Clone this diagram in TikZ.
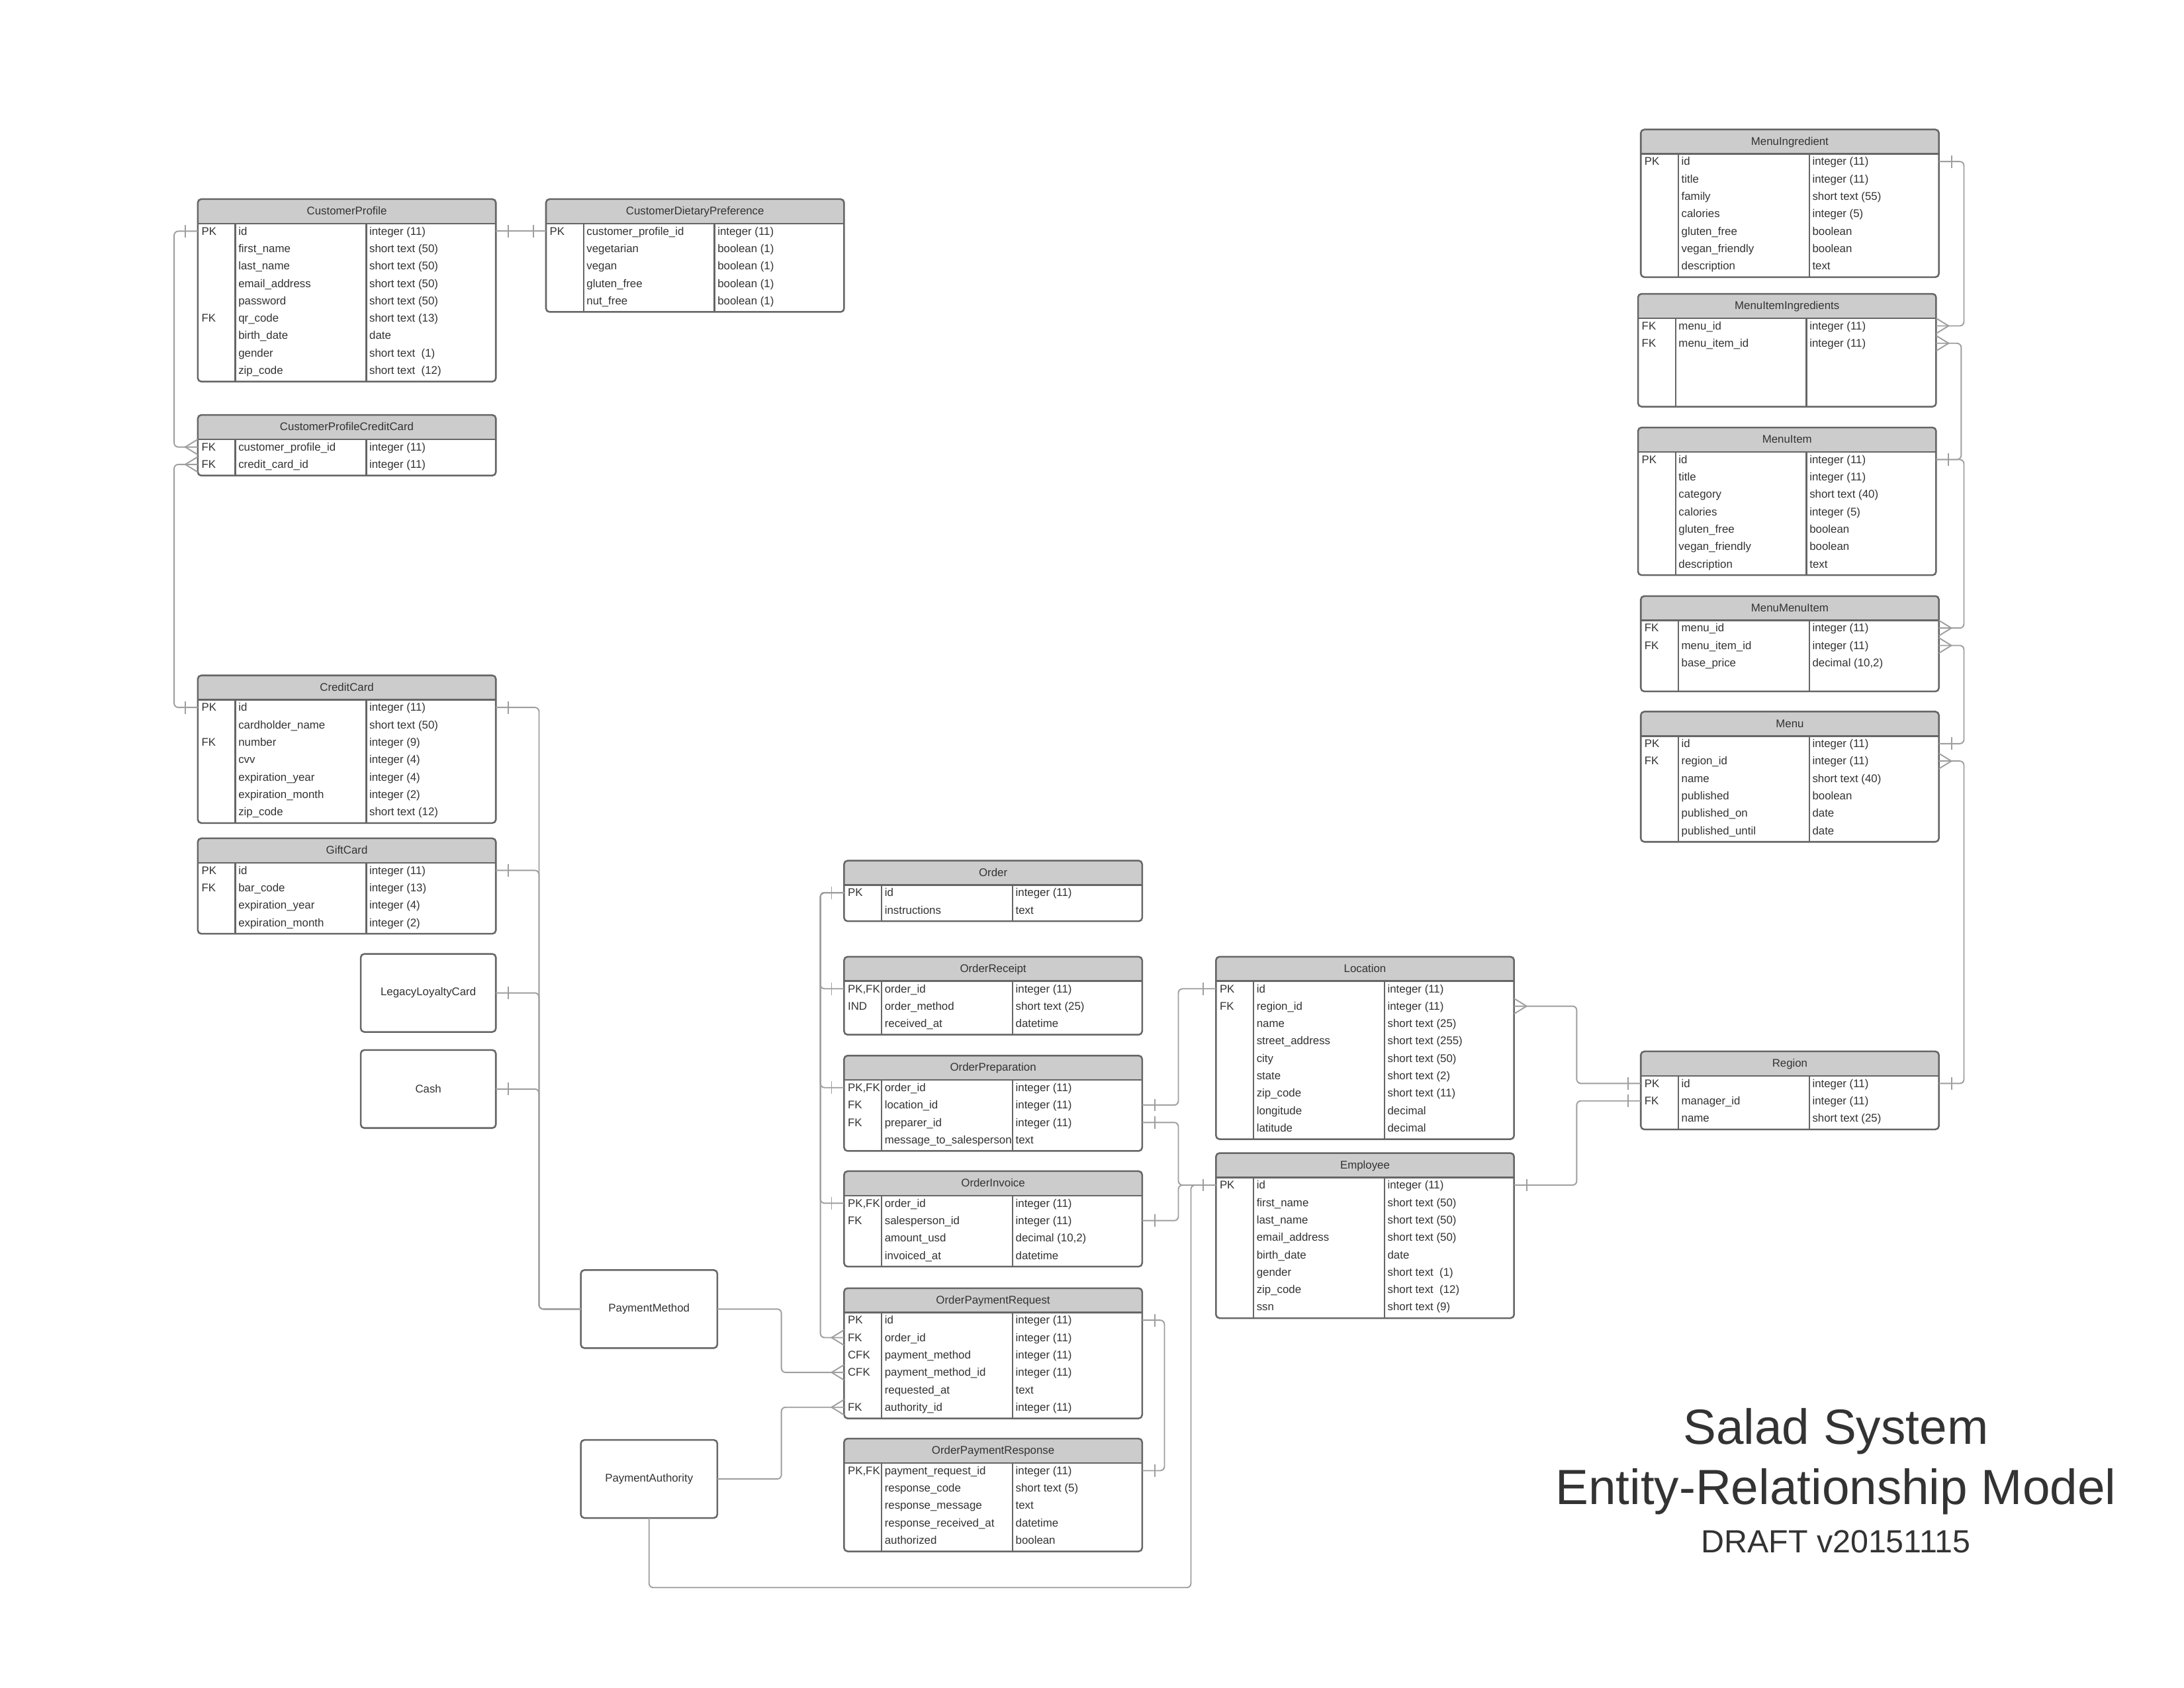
\documentclass[tikz,border=0pt]{standalone}
\usepackage{fontspec}
\setmainfont{Liberation Sans}
\definecolor{boxcol}{HTML}{666666}
\definecolor{hdrcol}{HTML}{CCCCCC}
\definecolor{conncol}{HTML}{9E9E9E}
\definecolor{txtcol}{HTML}{333333}
\newcommand\fs{\fontsize{8}{9.6}\selectfont}
\newcommand\ertab[5]{%
  \def\ertid{#1}%
  \pgfmathsetmacro\ertX{#2}%
  \pgfmathsetmacro\ertY{#3}%
  \pgfmathsetmacro\ertHB{#3+17.5}%
  \pgfmathsetmacro\ertBot{#3+17.5+12.5*#4+1}%
  \pgfmathsetmacro\ertH{17.5+12.5*#4+1}%
  \pgfmathsetmacro\ertXR{#2+214}%
  \pgfmathsetmacro\ertKa{#2+27}%
  \pgfmathsetmacro\ertKb{#2+121}%
  \fill[hdrcol, rounded corners=2.5pt] (\ertX,\ertY) rectangle (\ertXR,\ertHB);
  \fill[hdrcol] (\ertX,\ertY+8) rectangle (\ertXR,\ertHB);
  \node[tbox, minimum height=\ertH, anchor=north west] (#1) at (\ertX,\ertY) {};
  \draw[bline] (\ertX,\ertHB) -- (\ertXR,\ertHB);
  \draw[bline] (\ertKa,\ertHB) -- (\ertKa,\ertBot);
  \draw[bline] (\ertKb,\ertHB) -- (\ertKb,\ertBot);
  \node[ttl] (#1-title) at ({\ertX+107},{\ertY+8.5}) {#5};
}
\newcommand\errow[4]{%
  \pgfmathsetmacro\ertRy{\ertHB+5.5+12.5*(#1-1)}%
  \coordinate (\ertid-#1w) at (\ertX,\ertRy);
  \coordinate (\ertid-#1e) at (\ertXR,\ertRy);
  \node[cell] (\ertid-k#1) at ({\ertX+2.5},\ertRy) {#2};
  \node[cell] (\ertid-n#1) at ({\ertX+29},\ertRy) {#3};
  \node[cell] (\ertid-y#1) at ({\ertX+123},\ertRy) {#4};
}
\begin{document}
\begin{tikzpicture}[x=1pt,y=-1pt,
  conn/.style={draw=conncol, line width=0.9pt, rounded corners=3pt},
  tbox/.style={draw=boxcol, line width=1.2pt, rounded corners=2.5pt, inner sep=0pt, outer sep=0pt, minimum width=214pt},
  bline/.style={draw=boxcol, line width=1.2pt},
  ttl/.style={font=\fs, text=txtcol, inner sep=0pt, text height=6pt, text depth=0.5pt},
  cell/.style={font=\fs, text=txtcol, inner sep=0pt, anchor=west, text height=6pt, text depth=0.5pt},
  sbox/.style={draw=boxcol, line width=1.2pt, rounded corners=2.5pt, inner sep=0pt, outer sep=0pt, minimum width=97pt, minimum height=56pt, font=\fs, text=txtcol},
  bigtxt/.style={text=txtcol, inner sep=0pt},
  barW/.pic={\draw[draw=conncol, line width=0.9pt] (-9,-4.5) -- (-9,4.5);},
  barE/.pic={\draw[draw=conncol, line width=0.9pt] (9,-4.5) -- (9,4.5);},
  crowW/.pic={\draw[draw=conncol, line width=0.9pt] (0,-5.5) -- (-9,0) -- (0,5.5);},
  crowE/.pic={\draw[draw=conncol, line width=0.9pt] (0,-5.5) -- (9,0) -- (0,5.5);}
]
\useasboundingbox (0,0) rectangle (1568,1212);
\fill[white] (0,0) rectangle (1568,1212);

% ---------- Customer tables ----------
\ertab{CP}{142}{143}{9}{CustomerProfile}
\errow{1}{PK}{id}{integer (11)}
\errow{2}{}{first\_name}{short text (50)}
\errow{3}{}{last\_name}{short text (50)}
\errow{4}{}{email\_address}{short text (50)}
\errow{5}{}{password}{short text (50)}
\errow{6}{FK}{qr\_code}{short text (13)}
\errow{7}{}{birth\_date}{date}
\errow{8}{}{gender}{short text\ \ (1)}
\errow{9}{}{zip\_code}{short text\ \ (12)}

\ertab{CDP}{392}{143}{5}{CustomerDietaryPreference}
\errow{1}{PK}{customer\_profile\_id}{integer (11)}
\errow{2}{}{vegetarian}{boolean (1)}
\errow{3}{}{vegan}{boolean (1)}
\errow{4}{}{gluten\_free}{boolean (1)}
\errow{5}{}{nut\_free}{boolean (1)}

\ertab{CPCC}{142}{298}{2}{CustomerProfileCreditCard}
\errow{1}{FK}{customer\_profile\_id}{integer (11)}
\errow{2}{FK}{credit\_card\_id}{integer (11)}

\ertab{CC}{142}{485}{7}{CreditCard}
\errow{1}{PK}{id}{integer (11)}
\errow{2}{}{cardholder\_name}{short text (50)}
\errow{3}{FK}{number}{integer (9)}
\errow{4}{}{cvv}{integer (4)}
\errow{5}{}{expiration\_year}{integer (4)}
\errow{6}{}{expiration\_month}{integer (2)}
\errow{7}{}{zip\_code}{short text (12)}

\ertab{GC}{142}{602}{4}{GiftCard}
\errow{1}{PK}{id}{integer (11)}
\errow{2}{FK}{bar\_code}{integer (13)}
\errow{3}{}{expiration\_year}{integer (4)}
\errow{4}{}{expiration\_month}{integer (2)}

\node[sbox] (LLC) at (307.5,713) {LegacyLoyaltyCard};
\node[sbox] (CASH) at (307.5,782) {Cash};
\node[sbox, minimum width=98pt] (PM) at (466,940) {PaymentMethod};
\node[sbox, minimum width=98pt] (PA) at (466,1062) {PaymentAuthority};

% ---------- Order tables ----------
\ertab{ORD}{606}{618}{2}{Order}
\errow{1}{PK}{id}{integer (11)}
\errow{2}{}{instructions}{text}

\ertab{ORC}{606}{687}{3}{OrderReceipt}
\errow{1}{PK,FK}{order\_id}{integer (11)}
\errow{2}{IND}{order\_method}{short text (25)}
\errow{3}{}{received\_at}{datetime}

\ertab{OPP}{606}{758}{4}{OrderPreparation}
\errow{1}{PK,FK}{order\_id}{integer (11)}
\errow{2}{FK}{location\_id}{integer (11)}
\errow{3}{FK}{preparer\_id}{integer (11)}
\errow{4}{}{message\_to\_salesperson}{text}

\ertab{OI}{606}{841}{4}{OrderInvoice}
\errow{1}{PK,FK}{order\_id}{integer (11)}
\errow{2}{FK}{salesperson\_id}{integer (11)}
\errow{3}{}{amount\_usd}{decimal (10,2)}
\errow{4}{}{invoiced\_at}{datetime}

\ertab{OPR}{606}{925}{6}{OrderPaymentRequest}
\errow{1}{PK}{id}{integer (11)}
\errow{2}{FK}{order\_id}{integer (11)}
\errow{3}{CFK}{payment\_method}{integer (11)}
\errow{4}{CFK}{payment\_method\_id}{integer (11)}
\errow{5}{}{requested\_at}{text}
\errow{6}{FK}{authority\_id}{integer (11)}

\ertab{OPRS}{606}{1033}{5}{OrderPaymentResponse}
\errow{1}{PK,FK}{payment\_request\_id}{integer (11)}
\errow{2}{}{response\_code}{short text (5)}
\errow{3}{}{response\_message}{text}
\errow{4}{}{response\_received\_at}{datetime}
\errow{5}{}{authorized}{boolean}

% ---------- Location / Employee / Region ----------
\ertab{LOC}{873}{687}{9}{Location}
\errow{1}{PK}{id}{integer (11)}
\errow{2}{FK}{region\_id}{integer (11)}
\errow{3}{}{name}{short text (25)}
\errow{4}{}{street\_address}{short text (255)}
\errow{5}{}{city}{short text (50)}
\errow{6}{}{state}{short text (2)}
\errow{7}{}{zip\_code}{short text (11)}
\errow{8}{}{longitude}{decimal}
\errow{9}{}{latitude}{decimal}

\ertab{EMP}{873}{828}{8}{Employee}
\errow{1}{PK}{id}{integer (11)}
\errow{2}{}{first\_name}{short text (50)}
\errow{3}{}{last\_name}{short text (50)}
\errow{4}{}{email\_address}{short text (50)}
\errow{5}{}{birth\_date}{date}
\errow{6}{}{gender}{short text\ \ (1)}
\errow{7}{}{zip\_code}{short text\ \ (12)}
\errow{8}{}{ssn}{short text (9)}

\ertab{REG}{1178}{755}{3}{Region}
\errow{1}{PK}{id}{integer (11)}
\errow{2}{FK}{manager\_id}{integer (11)}
\errow{3}{}{name}{short text (25)}

% ---------- Menu tables ----------
\ertab{MI}{1178}{93}{7}{MenuIngredient}
\errow{1}{PK}{id}{integer (11)}
\errow{2}{}{title}{integer (11)}
\errow{3}{}{family}{short text (55)}
\errow{4}{}{calories}{integer (5)}
\errow{5}{}{gluten\_free}{boolean}
\errow{6}{}{vegan\_friendly}{boolean}
\errow{7}{}{description}{text}

\ertab{MII}{1176}{211}{5}{MenuItemIngredients}
\errow{1}{FK}{menu\_id}{integer (11)}
\errow{2}{FK}{menu\_item\_id}{integer (11)}

\ertab{MIT}{1176}{307}{7}{MenuItem}
\errow{1}{PK}{id}{integer (11)}
\errow{2}{}{title}{integer (11)}
\errow{3}{}{category}{short text (40)}
\errow{4}{}{calories}{integer (5)}
\errow{5}{}{gluten\_free}{boolean}
\errow{6}{}{vegan\_friendly}{boolean}
\errow{7}{}{description}{text}

\ertab{MMI}{1178}{428}{4}{MenuMenuItem}
\errow{1}{FK}{menu\_id}{integer (11)}
\errow{2}{FK}{menu\_item\_id}{integer (11)}
\errow{3}{}{base\_price}{decimal (10,2)}

\ertab{MENU}{1178}{511}{6}{Menu}
\errow{1}{PK}{id}{integer (11)}
\errow{2}{FK}{region\_id}{integer (11)}
\errow{3}{}{name}{short text (40)}
\errow{4}{}{published}{boolean}
\errow{5}{}{published\_on}{date}
\errow{6}{}{published\_until}{date}

% ---------- Title ----------
\node[bigtxt, font=\fontsize{35.5}{40}\selectfont] (T1) at (1318,1028) {Salad System};
\node[bigtxt, font=\fontsize{35.5}{40}\selectfont] (T2) at (1318,1071) {Entity-Relationship Model};
\node[bigtxt, font=\fontsize{23}{27}\selectfont] (T3) at (1318,1107) {DRAFT v20151115};

% ---------- Connectors ----------
% Customer side
\draw[conn] (CP-1w) -- ++(-17,0) |- (CPCC-1w);
\pic at (CP-1w) {barW}; \pic at (CPCC-1w) {crowW};
\draw[conn] (CP-1e) -- (CDP-1w);
\pic at (CP-1e) {barE}; \pic at (CDP-1w) {barW};
\draw[conn] (CC-1w) -- ++(-17,0) |- (CPCC-2w);
\pic at (CC-1w) {barW}; \pic at (CPCC-2w) {crowW};

% Payment methods
\draw[conn] (CC-1e) -- ++(31,0) |- (PM.west);
\draw[conn] (GC-1e) -- ++(31,0) |- (PM.west);
\draw[conn] (LLC.east) -- ++(31,0) |- (PM.west);
\draw[conn] (CASH.east) -- ++(31,0) |- (PM.west);
\pic at (CC-1e) {barE}; \pic at (GC-1e) {barE};
\pic at (LLC.east) {barE}; \pic at (CASH.east) {barE};

\draw[conn] (PM.east) -- ++(46,0) |- (OPR-4w);
\pic at (OPR-4w) {crowW};
\draw[conn] (PA.east) -- ++(46,0) |- (OPR-6w);
\pic at (OPR-6w) {crowW};
\draw[conn] (PA.south) -- ++(0,50) -| ([xshift=-18pt]EMP-1w) -- (EMP-1w);

% Order
\draw[conn] (ORD-1w) -- ++(-17,0) |- (ORC-1w);
\draw[conn] (ORD-1w) -- ++(-17,0) |- (OPP-1w);
\draw[conn] (ORD-1w) -- ++(-17,0) |- (OI-1w);
\draw[conn] (ORD-1w) -- ++(-17,0) |- (OPR-2w);
\pic at (ORD-1w) {barW}; \pic at (ORC-1w) {barW};
\pic at (OPP-1w) {barW}; \pic at (OI-1w) {barW};
\pic at (OPR-2w) {crowW};

\draw[conn] (OPR-1e) -- ++(16,0) |- (OPRS-1e);
\pic at (OPR-1e) {barE}; \pic at (OPRS-1e) {barE};

% Location / Employee
\draw[conn] (OPP-2e) -- ++(26,0) |- (LOC-1w);
\pic at (OPP-2e) {barE}; \pic at (LOC-1w) {barW};
\draw[conn] (OPP-3e) -- ++(26,0) |- (EMP-1w);
\draw[conn] (OI-2e) -- ++(26,0) |- (EMP-1w);
\pic at (OPP-3e) {barE}; \pic at (OI-2e) {barE}; \pic at (EMP-1w) {barW};

% Region
\draw[conn] (LOC-2e) -- ++(45,0) |- (REG-1w);
\pic at (LOC-2e) {crowE}; \pic at (REG-1w) {barW};
\draw[conn] (EMP-1e) -- ++(45,0) |- (REG-2w);
\pic at (EMP-1e) {barE}; \pic at (REG-2w) {barW};

% Menu side
\draw[conn] (MI-1e) -- ++(18,0) |- (MII-1e);
\pic at (MI-1e) {barE}; \pic at (MII-1e) {crowE};
\draw[conn] (MII-2e) -- ++(18,0) |- (MIT-1e);
\pic at (MII-2e) {crowE}; \pic at (MIT-1e) {barE};
\draw[conn] (MIT-1e) -- ++(20,0) |- (MMI-1e);
\pic at (MMI-1e) {crowE};
\draw[conn] (MMI-2e) -- ++(18,0) |- (MENU-1e);
\pic at (MMI-2e) {crowE}; \pic at (MENU-1e) {barE};
\draw[conn] (MENU-2e) -- ++(18,0) |- (REG-1e);
\pic at (MENU-2e) {crowE}; \pic at (REG-1e) {barE};
\end{tikzpicture}
\end{document}
